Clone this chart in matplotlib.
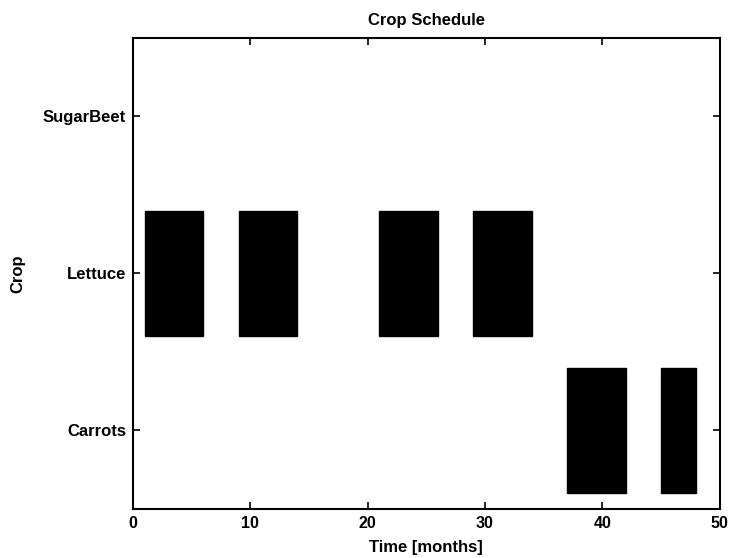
import matplotlib
matplotlib.use("Agg")
import matplotlib.pyplot as plt

crops = ["Carrots", "Lettuce", "SugarBeet"]
carrot_starts = [37, 45]
carrot_ends = [42, 48]
lettuce_starts = [1, 9, 21, 29]
lettuce_ends = [6, 14, 26, 34]
sugarbeet_starts = []
sugarbeet_ends = []
xticks = [0, 10, 20, 30, 40, 50]

plt.rcParams['font.family'] = ['Liberation Sans', 'DejaVu Sans']

fig = plt.figure(figsize=(7.3, 5.58), dpi=100)
ax = fig.add_axes([0.182, 0.088, 0.804, 0.844])

series = [(carrot_starts, carrot_ends), (lettuce_starts, lettuce_ends),
          (sugarbeet_starts, sugarbeet_ends)]
for i, (s, e) in enumerate(series):
    if s:
        ax.barh([i + 1] * len(s), [b - a for a, b in zip(s, e)], left=s,
                height=0.8, color='black', edgecolor='black')

fs = 12
ax.set_xlim(0, 50)
ax.set_ylim(0.5, 3.5)
ax.set_xticks(xticks)
ax.set_xticklabels([str(t) for t in xticks], fontsize=11.5, fontweight='bold')
ax.set_yticks([1, 2, 3])
ax.set_yticklabels(crops, fontsize=fs, fontweight='bold')
ax.tick_params(direction='in', top=True, right=True, length=5, width=1.2,
               pad=5)
for sp in ax.spines.values():
    sp.set_linewidth(1.5)
ax.set_title("Crop Schedule", fontsize=fs, fontweight='bold', pad=9)
ax.set_xlabel("Time [months]", fontsize=fs, fontweight='bold')
ax.set_ylabel("Crop", fontsize=fs, fontweight='bold')
ax.xaxis.set_label_coords(0.5, -0.065)
ax.yaxis.set_label_coords(-0.183, 0.5)

fig.savefig("out.png", dpi=100)
